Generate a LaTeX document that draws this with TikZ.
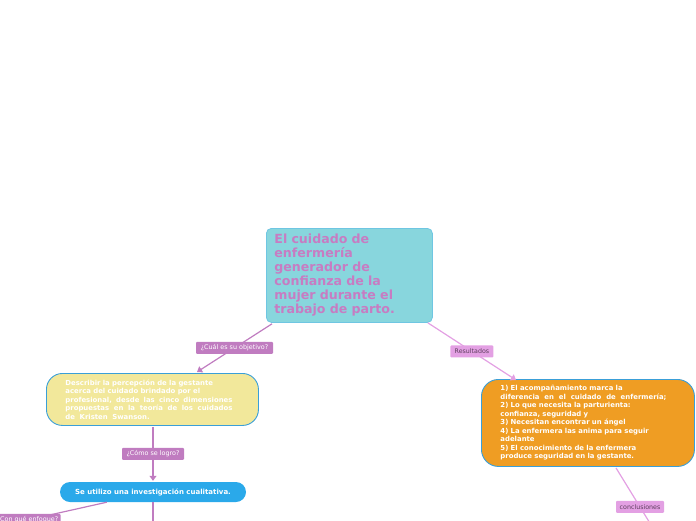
\documentclass[tikz,border=0pt]{standalone}
\usepackage{fontspec}
\setmainfont{DejaVu Sans}
\usetikzlibrary{arrows.meta,calc}
\definecolor{teal1}{HTML}{88D6DD}
\definecolor{tealb}{HTML}{6FC6E2}
\definecolor{titlec}{HTML}{C77CC2}
\definecolor{yel}{HTML}{F2E89B}
\definecolor{bordb}{HTML}{3A9FD8}
\definecolor{ora}{HTML}{EF9D23}
\definecolor{blu}{HTML}{2AA9EA}
\definecolor{lpurp}{HTML}{C07CC0}
\definecolor{lpink}{HTML}{E3A0E3}
\definecolor{dtext}{HTML}{5E3F5E}
\newcommand{\spreadline}[2]{\leavevmode\hbox to #1{#2}}
\tikzset{
  x=1pt, y=-1pt,
  bigbox/.style={draw=bordb, line width=0.9pt, align=left, anchor=north west, inner ysep=0pt,
    text=white, font=\fontsize{6.9}{8.5}\selectfont\bfseries},
  purplab/.style={fill=lpurp, text=white, rounded corners=1pt, inner sep=0pt,
    minimum height=12pt, font=\fontsize{6.4}{7}\selectfont},
  pinklab/.style={fill=lpink, text=dtext, rounded corners=1pt, inner sep=0pt,
    minimum height=12pt, font=\fontsize{6.3}{7}\selectfont},
  purpedge/.style={draw=lpurp, line width=1.2pt},
  pinkedge/.style={draw=lpink, line width=1.2pt},
  tip/.style={-{Triangle[width=7pt,length=5pt]}},
}
\begin{document}
\begin{tikzpicture}
\useasboundingbox (0,0) rectangle (696,520);
\clip (0,0) rectangle (696,520);
% central
\node[draw=tealb, fill=teal1, line width=0.8pt, rounded corners=5pt, anchor=north west,
  minimum width=166pt, minimum height=94pt, inner xsep=8pt, inner ysep=0pt, text width=150pt,
  align=left, text=titlec, font=\fontsize{12.6}{14}\selectfont\bfseries]
  (c) at (266,228) {El cuidado de\\enfermería\\generador de\\confianza de la\\mujer durante el\\trabajo de parto.};
% yellow
\node[bigbox, fill=yel, rounded corners=16pt, minimum width=212pt, minimum height=52pt,
  inner xsep=19pt, text width=174pt]
  (y) at (46,373) {Describir la percepción de la gestante\\acerca del cuidado brindado por el\\\spreadline{167pt}{profesional,\hfill desde\hfill las\hfill cinco\hfill dimensiones}\\\spreadline{167pt}{propuestas\hfill en\hfill la\hfill teoría\hfill de\hfill los\hfill cuidados}\\de\ \ Kristen\ \ Swanson.};
% orange
\node[bigbox, fill=ora, rounded corners=17pt, minimum width=213pt, minimum height=87pt,
  inner xsep=19pt, text width=175pt]
  (o) at (481,379) {1) El acompañamiento marca la\\\spreadline{166pt}{diferencia\hfill en\hfill el\hfill cuidado\hfill de\hfill enfermería;}\\2) Lo que necesita la parturienta:\\confianza, seguridad y\\3) Necesitan encontrar un ángel\\4) La enfermera las anima para seguir\\adelante\\5) El conocimiento de la enfermera\\produce seguridad en la gestante.};
% blue
\node[fill=blu, rounded corners=10pt, minimum width=186pt, minimum height=20pt, inner sep=0pt,
  text=white, font=\fontsize{7}{8}\selectfont\bfseries]
  (b) at (153,492) {Se utilizo una investigación cualitativa.};
% connectors
\draw[purpedge, tip] ($(c.south west)+(6,1)$) -- node[purplab, minimum width=77pt] (l1) {¿Cuál es su objetivo?} ($(y.north west)+(151,-1)$);
\draw[pinkedge, tip] ($(c.south east)+(-5,0)$) -- node[pinklab, minimum width=43pt] (l2) {Resultados} ($(o.north west)+(35,1)$);
\draw[purpedge, tip] ($(y.south west)+(107,1)$) -- node[purplab, minimum width=62pt] (l3) {¿Cómo se logro?} ($(b.north)+(0,-1)$);
\coordinate (bdown) at (153,540);
\draw[purpedge] (b.south) -- (bdown);
\coordinate (bleft) at (-40,535);
\draw[purpedge] ($(b.south west)+(47,0)$) -- node[purplab, minimum width=66pt, pos=0.54] (l4) {¿Con qué enfoque?} (bleft);
\coordinate (odown) at (664,546);
\draw[pinkedge] ($(o.south west)+(135,1)$) -- node[pinklab, minimum width=48pt, pos=0.5] (l5) {conclusiones} (odown);
\end{tikzpicture}
\end{document}
